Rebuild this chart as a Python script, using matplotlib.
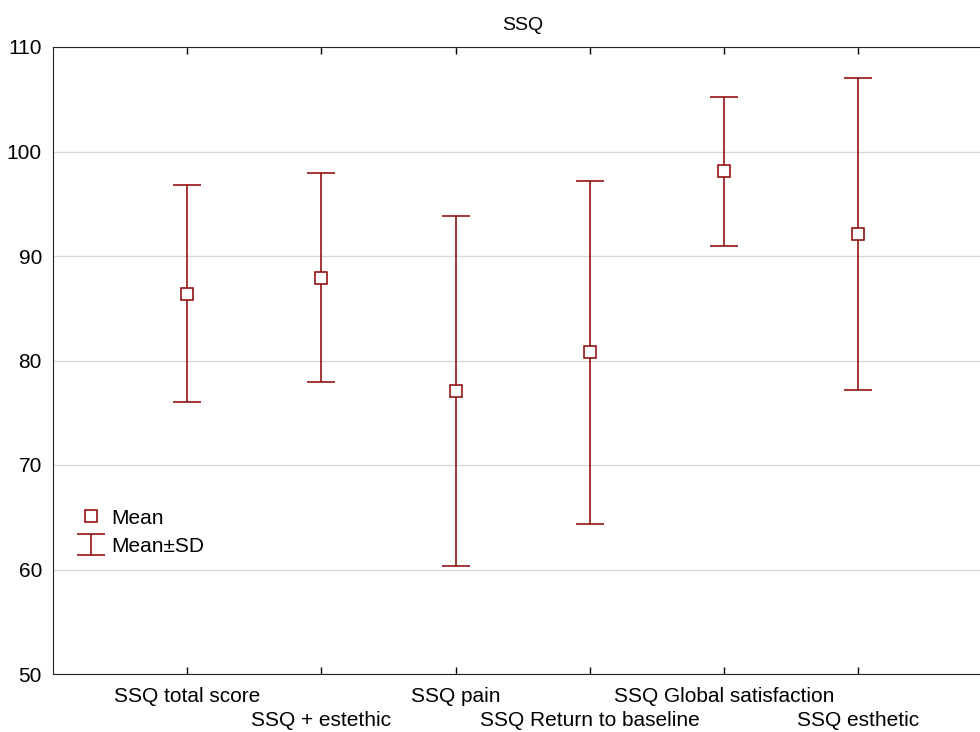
import matplotlib
matplotlib.use("Agg")
import matplotlib.pyplot as plt

plt.rcParams['font.family'] = ['Liberation Sans', 'DejaVu Sans']

categories = ["SSQ total score", "SSQ + estethic", "SSQ pain",
              "SSQ Return to baseline", "SSQ Global satisfaction", "SSQ esthetic"]
means = [86.4, 87.9, 77.1, 80.8, 98.1, 92.1]
sds = [10.4, 10.0, 16.75, 16.4, 7.15, 14.9]

red = "#8b0000"

fig = plt.figure(figsize=(9.8, 7.32), dpi=100)
ax = fig.add_axes([53 / 980, 58 / 732, 7 * 134.2 / 980, 627 / 732])

x = list(range(len(categories)))
eb = ax.errorbar(x, means, yerr=sds, fmt="none", ecolor=red, elinewidth=1.1,
                 capsize=10, capthick=1.1, zorder=3)
mk, = ax.plot(x, means, "s", mfc="white", mec=red, ms=8, mew=1.1, linestyle="none",
              zorder=4)

ax.set_xlim(-1, 6)
ax.set_ylim(50, 110)
ax.set_yticks(range(50, 111, 10))
# staggered labels: even categories on the first row, odd ones on the second
ax.set_xticks(x[0::2], categories[0::2])
ax.set_xticks(x[1::2], categories[1::2], minor=True)
ax.yaxis.grid(True, color="#d9d9d9", lw=1)
ax.set_axisbelow(True)

ax.tick_params(axis="x", which="both", direction="in", top=True, length=5,
               labelsize=15, width=1)
ax.tick_params(axis="x", which="major", pad=9)
ax.tick_params(axis="x", which="minor", pad=27)
ax.tick_params(axis="y", direction="in", length=0, labelsize=15, pad=8)
for s in ax.spines.values():
    s.set_color("#222222")
ax.spines["right"].set_visible(False)

ax.set_title("SSQ", fontsize=14, pad=12)

ax.legend([mk, eb], ["Mean", "Mean\u00b1SD"], loc="lower left",
          bbox_to_anchor=(0.015, 0.165), frameon=False, fontsize=15,
          handlelength=0.9, handletextpad=0.5, labelspacing=0.45, borderpad=0.2)

fig.savefig("out.png", dpi=100)
